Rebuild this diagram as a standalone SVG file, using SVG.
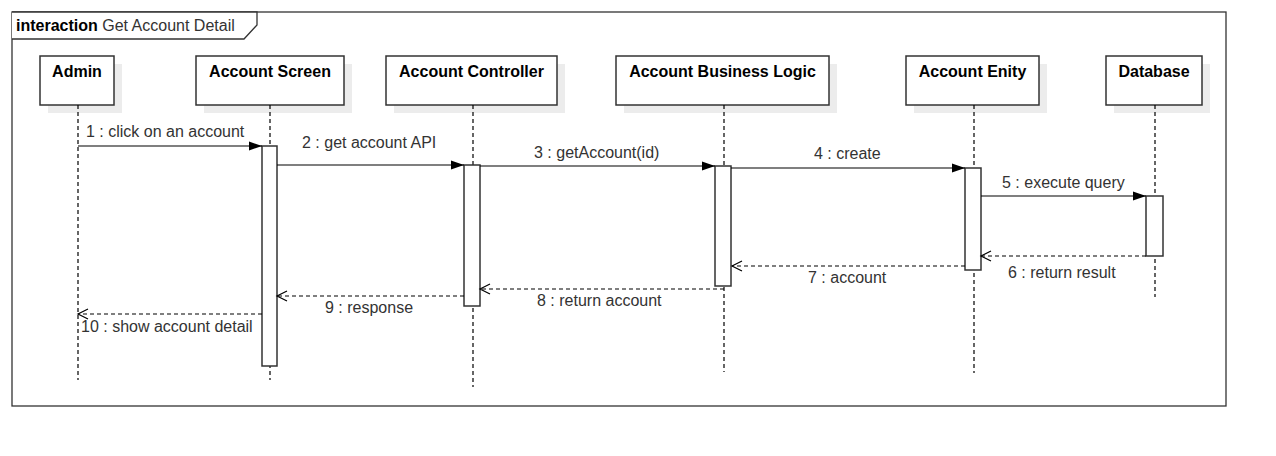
<svg xmlns="http://www.w3.org/2000/svg" width="1276" height="456" viewBox="0 0 1276 456">
<defs>
<marker id="fill" markerWidth="14" markerHeight="10" refX="13" refY="5" orient="auto" markerUnits="userSpaceOnUse">
<path d="M0,0.5 L13,5 L0,9.5 Z" fill="#000"/>
</marker>
<marker id="open" markerWidth="14" markerHeight="12" refX="12" refY="6" orient="auto" markerUnits="userSpaceOnUse">
<path d="M2,1 L12,6 L2,11" fill="none" stroke="#000" stroke-width="1.2"/>
</marker>
</defs>
<style>
text{font-family:"Liberation Sans",Arial,sans-serif;font-size:16px;fill:#333}
.t{font-weight:bold;fill:#000;text-anchor:middle}
.box{fill:#fff;stroke:#333;stroke-width:1.5}
.sh{fill:#ececec}
.life{stroke:#000;stroke-width:1.2;stroke-dasharray:4 3;fill:none}
.bar{fill:#fff;stroke:#333;stroke-width:1.5}
.msg{stroke:#000;stroke-width:1.2;fill:none}
.ret{stroke:#000;stroke-width:1.2;fill:none;stroke-dasharray:4 3}
</style>
<rect width="1276" height="456" fill="#fff"/>
<g id="frame">
<rect x="12" y="12" width="1214" height="394" fill="none" stroke="#333" stroke-width="1.3"/>
<path d="M12,12 H257 V25 L244,39 H12" fill="#fff" stroke="#333" stroke-width="1.3"/>
<text x="16" y="31"><tspan font-weight="bold" fill="#000">interaction</tspan> Get Account Detail</text>
</g>
<g id="admin">
<rect class="sh" x="48" y="64" width="74" height="49"/>
<rect class="box" x="40" y="56" width="74" height="49"/>
<text class="t" x="77" y="77">Admin</text>
<line class="life" x1="78" y1="105" x2="78" y2="380"/>
</g>
<g id="account-screen">
<rect class="sh" x="204" y="64" width="148" height="49"/>
<rect class="box" x="196" y="56" width="148" height="49"/>
<text class="t" x="270" y="77">Account Screen</text>
<line class="life" x1="270" y1="105" x2="270" y2="380"/>
<rect class="bar" x="262" y="146" width="15" height="220"/>
</g>
<g id="account-controller">
<rect class="sh" x="394" y="64" width="171" height="49"/>
<rect class="box" x="386" y="56" width="171" height="49"/>
<text class="t" x="471.5" y="77">Account Controller</text>
<line class="life" x1="473" y1="105" x2="473" y2="387"/>
<rect class="bar" x="464" y="165" width="16" height="141"/>
</g>
<g id="account-business-logic">
<rect class="sh" x="624" y="64" width="213" height="49"/>
<rect class="box" x="616" y="56" width="213" height="49"/>
<text class="t" x="722.5" y="77">Account Business Logic</text>
<line class="life" x1="724" y1="105" x2="724" y2="372"/>
<rect class="bar" x="715" y="166" width="16" height="120"/>
</g>
<g id="account-entity">
<rect class="sh" x="914" y="64" width="133" height="49"/>
<rect class="box" x="906" y="56" width="133" height="49"/>
<text class="t" x="972.5" y="77">Account Enity</text>
<line class="life" x1="974" y1="105" x2="974" y2="373"/>
<rect class="bar" x="965" y="168" width="16" height="102"/>
</g>
<g id="database">
<rect class="sh" x="1114" y="64" width="96" height="49"/>
<rect class="box" x="1106" y="56" width="96" height="49"/>
<text class="t" x="1154" y="77">Database</text>
<line class="life" x1="1155" y1="105" x2="1155" y2="297"/>
<rect class="bar" x="1146" y="196" width="17" height="60"/>
</g>
<g id="connectors">
<line class="msg" x1="78" y1="146" x2="262" y2="146" marker-end="url(#fill)"/>
<text x="86" y="137">1 : click on an account</text>
<line class="msg" x1="277" y1="165" x2="464" y2="165" marker-end="url(#fill)"/>
<text x="302" y="148">2 : get account API</text>
<line class="msg" x1="480" y1="166" x2="715" y2="166" marker-end="url(#fill)"/>
<text x="534" y="158">3 : getAccount(id)</text>
<line class="msg" x1="731" y1="168" x2="965" y2="168" marker-end="url(#fill)"/>
<text x="814" y="159">4 : create</text>
<line class="msg" x1="981" y1="196" x2="1146" y2="196" marker-end="url(#fill)"/>
<text x="1002" y="188">5 : execute query</text>
<line class="ret" x1="1146" y1="256" x2="981" y2="256" marker-end="url(#open)"/>
<text x="1008" y="278">6 : return result</text>
<line class="ret" x1="965" y1="266" x2="732" y2="266" marker-end="url(#open)"/>
<text x="808" y="283">7 : account</text>
<line class="ret" x1="724" y1="289" x2="480" y2="289" marker-end="url(#open)"/>
<text x="537" y="306">8 : return account</text>
<line class="ret" x1="464" y1="296" x2="277" y2="296" marker-end="url(#open)"/>
<text x="325" y="313">9 : response</text>
<line class="ret" x1="262" y1="314" x2="78" y2="314" marker-end="url(#open)"/>
<text x="81" y="332">10 : show account detail</text>
</g>
</svg>
